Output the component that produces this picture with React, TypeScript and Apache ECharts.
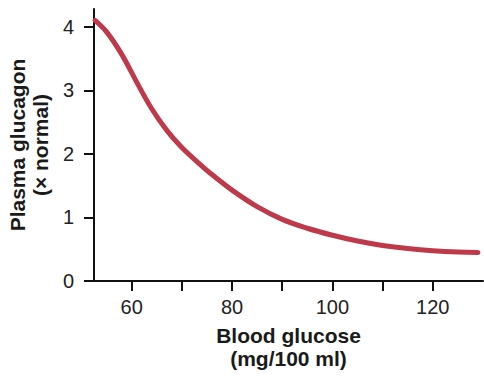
import React, { useEffect, useRef } from "react";
import * as echarts from "echarts";

const glucose = [52.7, 55, 58, 61, 64, 67, 70, 73, 76, 80, 85, 90, 95, 100, 105, 110, 115, 120, 125, 129];
const glucagon = [4.1, 3.92, 3.57, 3.13, 2.71, 2.37, 2.1, 1.88, 1.675, 1.43, 1.17, 0.97, 0.83, 0.72, 0.63, 0.56, 0.51, 0.475, 0.455, 0.45];
const xTicks = [60, 70, 80, 90, 100, 110, 120];
const xLabels = [60, 80, 100, 120];
const yTicks = [0, 1, 2, 3, 4];

export default function App() {
  const ref = useRef<HTMLDivElement>(null);
  useEffect(() => {
    if (!ref.current) return;
    const chart = echarts.init(ref.current, null, { renderer: "svg" });
    const font = "'Liberation Sans', Arial, Helvetica, sans-serif";
    chart.setOption({
      animation: false,
      backgroundColor: "#ffffff",
      grid: { left: 94, right: 1, top: 9, bottom: 96, outerBoundsMode: "none", containLabel: false },
      xAxis: {
        type: "value",
        min: 52.5,
        max: 130,
        name: "Blood glucose\n(mg/100 ml)",
        nameLocation: "middle",
        nameGap: 43,
        nameTextStyle: { fontFamily: font, fontSize: 21, fontWeight: "bold", color: "#1a1a1a", lineHeight: 23 },
        splitLine: { show: false },
        axisLine: { show: true, onZero: false, lineStyle: { color: "#111", width: 2 } },
        axisTick: { show: true, length: 10, lineStyle: { color: "#111", width: 2 }, customValues: xTicks },
        axisLabel: { margin: 16, fontFamily: font, fontSize: 20, color: "#222", customValues: xLabels },
      },
      yAxis: {
        type: "value",
        min: 0,
        max: 4.28,
        name: "Plasma glucagon\n(× normal)",
        nameLocation: "middle",
        nameRotate: 90,
        nameGap: 40,
        nameTextStyle: { fontFamily: font, fontSize: 21, fontWeight: "bold", color: "#1a1a1a", lineHeight: 23 },
        splitLine: { show: false },
        axisLine: { show: true, onZero: false, lineStyle: { color: "#111", width: 2 } },
        axisTick: { show: true, length: 10, lineStyle: { color: "#111", width: 2 }, customValues: yTicks },
        axisLabel: { margin: 20, fontFamily: font, fontSize: 20, color: "#222", customValues: yTicks },
      },
      series: [
        {
          type: "line",
          data: glucose.map((g, i) => [g, glucagon[i]]),
          smooth: 0.35,
          showSymbol: false,
          lineStyle: { color: "#be3a4a", width: 5, cap: "round" },
        },
      ],
    });
    return () => chart.dispose();
  }, []);
  return <div ref={ref} style={{ position: "fixed", left: 0, top: 0, width: 484, height: 377 }} />;
}
